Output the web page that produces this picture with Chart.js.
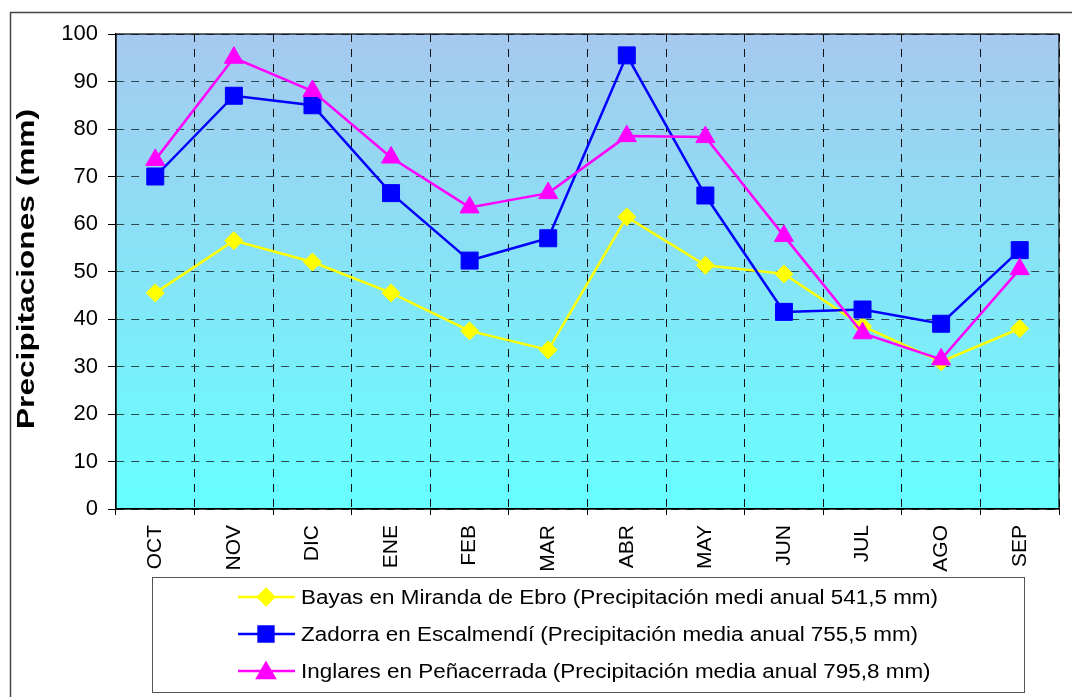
<!DOCTYPE html>
<html>
<head>
<meta charset="utf-8">
<script src="https://cdn.jsdelivr.net/npm/chart.js@4/dist/chart.umd.min.js"></script>
<style>
  html, body { margin: 0; padding: 0; background: #fff; }
  canvas { display: block; }
</style>
</head>
<body>
<canvas id="precip" width="1072" height="697"></canvas>
<script>
// months of the hydrological year
var months = ['OCT', 'NOV', 'DIC', 'ENE', 'FEB', 'MAR', 'ABR', 'MAY', 'JUN', 'JUL', 'AGO', 'SEP'];

// monthly precipitation (mm)
var bayas    = [45.5, 56.5, 52, 45.5, 37.5, 33.5, 61.5, 51.3, 49.5, 38.5, 31, 38];
var zadorra  = [70, 87, 85, 66.5, 52.3, 57, 95.5, 66, 41.5, 42, 39, 54.5];
var inglares = [73.5, 95, 88, 74, 63.5, 66.5, 78.5, 78.3, 57.5, 37, 31.5, 50.5];

var seriesNames = [
    'Bayas en Miranda de Ebro (Precipitación medi anual 541,5 mm)',
    'Zadorra en Escalmendí (Precipitación media anual 755,5 mm)',
    'Inglares en Peñacerrada (Precipitación media anual 795,8 mm)'
];
var yTitle = 'Precipitaciones (mm)';

var FONT = 'Arial, "Liberation Sans", sans-serif';

// background gradient, frame, y title and boxed legend
var decor = {
    id: 'decor',
    beforeDraw: function(chart) {
        var ctx = chart.ctx, a = chart.chartArea;
        ctx.save();
        ctx.fillStyle = '#fff';
        ctx.fillRect(0, 0, chart.width, chart.height);
        // outer frame
        ctx.strokeStyle = '#444';
        ctx.lineWidth = 1.5;
        ctx.strokeRect(10.5, 12.5, chart.width + 10, chart.height + 10);
        // plot gradient
        var g = ctx.createLinearGradient(0, a.top, 0, a.bottom);
        g.addColorStop(0, 'rgb(166,201,239)');
        g.addColorStop(1, 'rgb(102,255,255)');
        ctx.fillStyle = g;
        ctx.fillRect(a.left, a.top, a.right - a.left, a.bottom - a.top);
        ctx.restore();
    },
    afterDraw: function(chart) {
        var ctx = chart.ctx, a = chart.chartArea;
        ctx.save();
        // plot border
        ctx.strokeStyle = '#000';
        ctx.lineWidth = 1.2;
        ctx.strokeRect(a.left, a.top, a.right - a.left, a.bottom - a.top);

        // y title, stretched along its length like the original
        ctx.font = 'bold 23px ' + FONT;
        ctx.fillStyle = '#000';
        ctx.textAlign = 'center';
        ctx.textBaseline = 'middle';
        var w = ctx.measureText(yTitle).width;
        ctx.translate(28, 269);
        ctx.rotate(-Math.PI / 2);
        ctx.scale(320 / w, 1);
        ctx.fillText(yTitle, 0, 0);
        ctx.restore();

        // legend box
        ctx.save();
        ctx.strokeStyle = '#555';
        ctx.lineWidth = 1;
        ctx.strokeRect(152.5, 577.5, 872, 115);
        var rows = [597, 634, 671];
        var legendRadius = [8, 10.5, 10];
        ctx.font = '20px ' + FONT;
        var stretch = 637 / ctx.measureText(seriesNames[0]).width;
        chart.data.datasets.forEach(function(ds, i) {
            var y = rows[i];
            ctx.strokeStyle = ds.borderColor;
            ctx.lineWidth = 2.5;
            ctx.beginPath();
            ctx.moveTo(238, y);
            ctx.lineTo(295, y);
            ctx.stroke();
            ctx.fillStyle = ds.pointBackgroundColor;
            ctx.strokeStyle = ds.pointBorderColor;
            Chart.helpers.drawPoint(ctx, {
                pointStyle: ds.pointStyle,
                radius: legendRadius[i],
                rotation: 0,
                borderWidth: 1
            }, 266, y + (ds.pointStyle === 'triangle' ? 2 : 0));
            ctx.save();
            ctx.fillStyle = '#000';
            ctx.textAlign = 'left';
            ctx.textBaseline = 'middle';
            ctx.translate(301, y + 1);
            ctx.scale(stretch, 1);
            ctx.fillText(seriesNames[i], 0, 0);
            ctx.restore();
        });
        ctx.restore();
    }
};

function makeSet(label, data, color, style, radius, order) {
    return {
        label: label,
        data: data,
        borderColor: color,
        backgroundColor: color,
        pointBackgroundColor: color,
        pointBorderColor: color,
        pointStyle: style,
        pointRadius: radius,
        pointHoverRadius: radius,
        pointBorderWidth: 1,
        borderWidth: 2.5,
        tension: 0,
        fill: false,
        order: order
    };
}

var config = {
    type: 'line',
    data: {
        labels: months,
        datasets: [
            makeSet(seriesNames[0], bayas, '#FFFF00', 'rectRot', 9, 3),
            makeSet(seriesNames[1], zadorra, '#0000FF', 'rect', 12, 2),
            makeSet(seriesNames[2], inglares, '#FF00FF', 'triangle', 11, 1)
        ]
    },
    options: {
        responsive: false,
        animation: false,
        layout: { padding: { left: 11, top: 34, right: 10, bottom: 120 } },
        plugins: {
            legend: { display: false },
            tooltip: { enabled: false }
        },
        scales: {
            x: {
                offset: true,
                grid: {
                    offset: true,
                    color: '#111',
                    lineWidth: 1,
                    tickLength: 6,
                    tickColor: '#000'
                },
                border: { display: true, color: '#000', width: 1.2, dash: [8, 7] },
                ticks: {
                    color: '#000',
                    font: { family: FONT, size: 21 },
                    minRotation: 90,
                    maxRotation: 90,
                    autoSkip: false,
                    padding: 10
                },
                afterFit: function(scale) { scale.height = 68; }
            },
            y: {
                min: 0,
                max: 100,
                grid: {
                    color: function(c) { return c.tick && c.tick.value % 10 === 0 ? '#2b4a4f' : 'rgba(0,0,0,0)'; },
                    lineWidth: 1,
                    tickLength: 8,
                    tickColor: '#000'
                },
                border: { display: true, color: '#000', width: 1.2, dash: [8, 7] },
                ticks: {
                    stepSize: 5,
                    color: '#000',
                    font: { family: FONT, size: 22 },
                    padding: 10,
                    callback: function(v) { return v % 10 === 0 ? v : ''; }
                },
                afterFit: function(scale) { scale.width = 105; }
            }
        }
    },
    plugins: [decor]
};

window.chart = new Chart(document.getElementById('precip').getContext('2d'), config);
</script>
</body>
</html>
